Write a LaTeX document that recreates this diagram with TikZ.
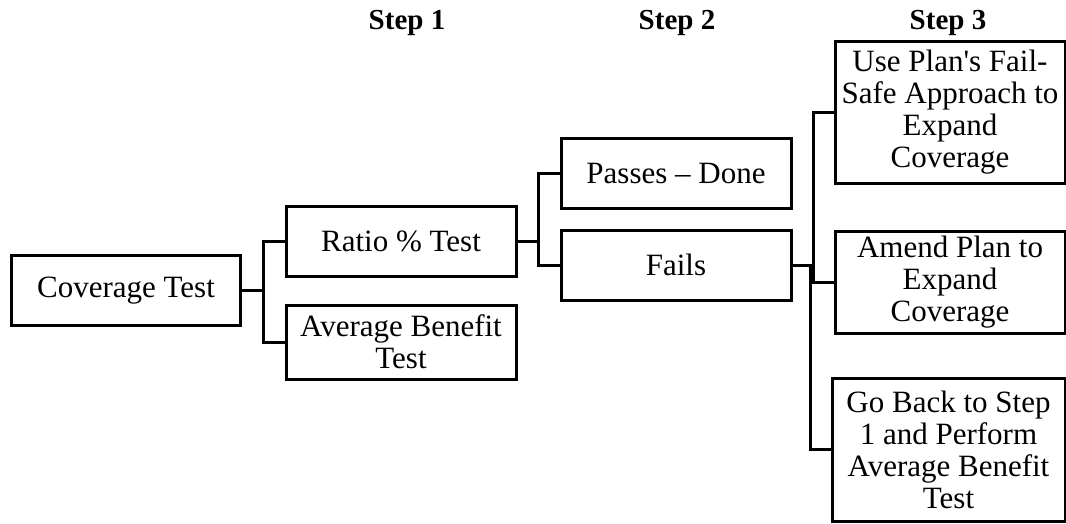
\documentclass[tikz,border=0pt]{standalone}
\usepackage{fontspec}
\setmainfont{Liberation Serif}
\begin{document}
\begin{tikzpicture}[x=1pt,y=-1pt,
  box/.style={draw,line width=3pt,inner sep=0pt,align=center,
    font=\fontsize{31}{32}\selectfont},
  head/.style={anchor=base,font=\fontsize{29}{32}\selectfont\bfseries},
  wire/.style={line width=3pt}]
\useasboundingbox (0,0) rectangle (1066,523);

% column headings
\node[head] (h1) at (407,29) {Step 1};
\node[head] (h2) at (677,29) {Step 2};
\node[head] (h3) at (948,29) {Step 3};

% boxes
\node[box,minimum width=229,minimum height=70] (cov) at (126,290.5) {Coverage Test};
\node[box,minimum width=230,minimum height=70] (ratio) at (401,241) {Ratio \% Test};
\node[box,minimum width=230,minimum height=74] (avg) at (401,342) {Average Benefit\\Test};
\node[box,minimum width=230,minimum height=70] (pass) at (676,173) {Passes -- Done};
\node[box,minimum width=230,minimum height=70] (fail) at (676,265) {Fails};
\node[box,minimum width=230,minimum height=142] (fsafe) at (950,112) {Use Plan\textquotesingle s Fail-\\Safe Approach to\\Expand\\Coverage};
\node[box,minimum width=230,minimum height=102] (amend) at (950,282) {Amend Plan to\\Expand\\Coverage};
\node[box,minimum width=233,minimum height=143] (goback) at (948.5,449.5) {Go Back to Step\\1 and Perform\\Average Benefit\\Test};

% junction points
\coordinate (j1) at (263,290.5);
\coordinate (j2) at (538,241);
\coordinate (j3) at (813,265);
\coordinate (j3b) at (810,265);

% connectors
\draw[wire] (cov.east) -- (j1);
\draw[wire] (ratio.west) -| (j1) |- (avg.west);
\draw[wire] (ratio.east) -- (j2);
\draw[wire] (pass.west) -| (j2) |- (fail.west);
\draw[wire] (fail.east) -- (j3);
\draw[wire] (fsafe.west) -| (j3) |- (amend.west);
\draw[wire] (j3b) |- (goback.west);
\end{tikzpicture}
\end{document}
